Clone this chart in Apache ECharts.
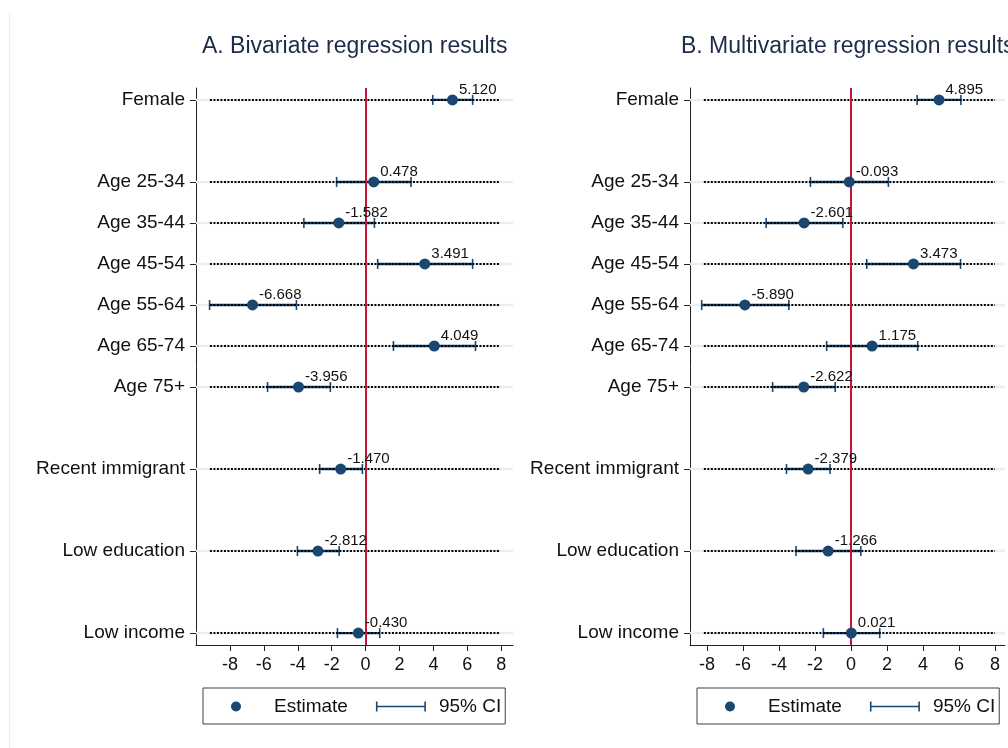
<!DOCTYPE html>
<html>
<head>
<meta charset="utf-8">
<script src="https://cdn.jsdelivr.net/npm/echarts@6/dist/echarts.min.js"></script>
<style>
html,body{margin:0;padding:0;background:#fff;}
#chart{width:1008px;height:748px;}
</style>
</head>
<body>
<div id="chart"></div>
<script>
// ---- data ----
const rows = ['Female', '', 'Age 25-34', 'Age 35-44', 'Age 45-54', 'Age 55-64', 'Age 65-74', 'Age 75+', '', 'Recent immigrant', '', 'Low education', '', 'Low income'];
const variables = ['Female', 'Age 25-34', 'Age 35-44', 'Age 45-54', 'Age 55-64', 'Age 65-74', 'Age 75+', 'Recent immigrant', 'Low education', 'Low income'];

const bivEst = [5.120, 0.478, -1.582, 3.491, -6.668, 4.049, -3.956, -1.470, -2.812, -0.430];
const bivLo  = [3.96, -1.71, -3.64, 0.71, -9.20, 1.64, -5.78, -2.71, -4.02, -1.66];
const bivHi  = [6.31, 2.68, 0.52, 6.31, -4.08, 6.48, -2.08, -0.19, -1.56, 0.83];

const mulEst = [4.895, -0.093, -2.601, 3.473, -5.890, 1.175, -2.622, -2.379, -1.266, 0.021];
const mulLo  = [3.68, -2.25, -4.71, 0.88, -8.29, -1.35, -4.35, -3.58, -3.05, -1.53];
const mulHi  = [6.11, 2.08, -0.45, 6.09, -3.45, 3.71, -0.87, -1.16, 0.55, 1.60];

const xTicks = [-8, -6, -4, -2, 0, 2, 4, 6, 8];
const titles = ['A. Bivariate regression results', 'B. Multivariate regression results'];

// ---- styling ----
const FONT = 'Liberation Sans, Arial, sans-serif';
const NAVY = '#1a476f';
const REF_RED = '#c4153a';

const rowIdx = variables.map(v => rows.indexOf(v));
const tickRows = rowIdx.slice();

const panels = [
  {est: bivEst, lo: bivLo, hi: bivHi, gridLeft: 196, gridWidth: 317, xMin: -10, xMax: 8.69, dot: [-9.18, 7.95]},
  {est: mulEst, lo: mulLo, hi: mulHi, gridLeft: 690, gridWidth: 315, xMin: -8.94, xMax: 8.56, dot: [-8.17, 8.0]}
];

function renderGridLine(params, api) {
  const cs = params.coordSys;
  const y = api.coord([0, api.value(2)])[1];
  return {type: 'line', shape: {x1: cs.x, y1: y, x2: cs.x + cs.width, y2: y},
          style: {stroke: '#e8eff1', lineWidth: 2.5}};
}

function renderDotLine(params, api) {
  const r = api.value(2);
  const a = api.coord([api.value(0), r]);
  const b = api.coord([api.value(1), r]);
  return {type: 'line', shape: {x1: a[0], y1: a[1], x2: b[0], y2: b[1]},
          style: {stroke: '#000000', lineWidth: 2, lineDash: [2, 1.5]}};
}

function renderCI(params, api) {
  const r = api.value(2);
  const a = api.coord([api.value(0), r]);
  const b = api.coord([api.value(1), r]);
  const h = 5;
  return {
    type: 'group',
    children: [
      {type: 'line', shape: {x1: a[0], y1: a[1], x2: b[0], y2: b[1]}, style: {stroke: NAVY, lineWidth: 2.4}},
      {type: 'line', shape: {x1: a[0], y1: a[1] - h, x2: a[0], y2: a[1] + h}, style: {stroke: NAVY, lineWidth: 1.6}},
      {type: 'line', shape: {x1: b[0], y1: b[1] - h, x2: b[0], y2: b[1] + h}, style: {stroke: NAVY, lineWidth: 1.6}}
    ]
  };
}

const grids = [], xAxes = [], yAxes = [], series = [], titleOpts = [], legends = [];
const ciIcon = 'path://M0,0h1.6v10h-1.6z M0,4.2h50v1.6h-50z M48.4,0h1.6v10h-1.6z';

panels.forEach((p, i) => {
  grids.push({left: p.gridLeft, width: p.gridWidth, top: 88, height: 557});
  xAxes.push({
    type: 'value', gridIndex: i, min: p.xMin, max: p.xMax,
    axisLine: {show: true, onZero: false, lineStyle: {color: '#222', width: 1}},
    axisTick: {show: true, length: 6, customValues: xTicks, lineStyle: {color: '#222'}},
    axisLabel: {customValues: xTicks, fontSize: 18, color: '#111', fontFamily: FONT, margin: 11,
                formatter: v => String(Math.round(v))},
    splitLine: {show: false}
  });
  yAxes.push({
    type: 'value', gridIndex: i, inverse: true, min: -0.29, max: 13.29,
    axisLine: {show: true, onZero: false, lineStyle: {color: '#222', width: 1}},
    axisTick: {show: true, length: 6, customValues: tickRows, lineStyle: {color: '#222'}},
    axisLabel: {customValues: tickRows, fontSize: 19, color: '#111', fontFamily: FONT, margin: 11,
                formatter: v => rows[Math.round(v)]},
    splitLine: {show: false}
  });
  series.push({
    type: 'custom', name: 'grid' + i, xAxisIndex: i, yAxisIndex: i, z: 1, silent: true,
    renderItem: renderGridLine,
    encode: {x: [0, 1], y: 2},
    data: rowIdx.map(r => [p.dot[0], p.dot[1], r])
  });
  series.push({
    type: 'custom', name: '95% CI', xAxisIndex: i, yAxisIndex: i, z: 2, silent: true,
    itemStyle: {color: NAVY},
    renderItem: renderCI,
    encode: {x: [0, 1], y: 2},
    data: rowIdx.map((r, k) => [p.lo[k], p.hi[k], r])
  });
  series.push({
    type: 'custom', name: 'dots' + i, xAxisIndex: i, yAxisIndex: i, z: 3, silent: true,
    renderItem: renderDotLine,
    encode: {x: [0, 1], y: 2},
    data: rowIdx.map(r => [p.dot[0], p.dot[1], r])
  });
  series.push({
    type: 'scatter', name: 'Estimate', xAxisIndex: i, yAxisIndex: i, z: 10, silent: true,
    symbol: 'circle', symbolSize: 11,
    itemStyle: {color: NAVY, opacity: 1},
    label: {show: true, position: [12, -12], fontSize: 15, color: '#111', fontFamily: FONT,
            formatter: d => d.value[0].toFixed(3)},
    data: rowIdx.map((r, k) => [p.est[k], r]),
    markLine: {
      silent: true, symbol: 'none', z: 6,
      label: {show: false},
      lineStyle: {color: REF_RED, width: 2, type: 'solid'},
      emphasis: {disabled: true},
      data: [{xAxis: 0}]
    }
  });
  titleOpts.push({
    text: titles[i], left: i === 0 ? 202 : 681, top: 35, padding: 0,
    textStyle: {fontSize: 23, fontWeight: 'normal', color: '#1e2b4a', fontFamily: FONT}
  });
  legends.push({
    left: i === 0 ? 203 : 697, top: 688, width: 400, orient: 'horizontal',
    selectedMode: false,
    itemWidth: 50, itemHeight: 10, itemGap: 28,
    padding: [9, 4, 8, 28],
    borderColor: '#404040', borderWidth: 1, backgroundColor: '#fff',
    textStyle: {fontSize: 19, color: '#111', fontFamily: FONT, padding: [0, 0, 0, 8]},
    data: [
      {name: 'Estimate', icon: 'circle', itemStyle: {color: NAVY}},
      {name: '95% CI', icon: ciIcon, itemStyle: {color: NAVY}}
    ]
  });
});

const chart = echarts.init(document.getElementById('chart'), null, {renderer: 'canvas'});
chart.setOption({
  backgroundColor: '#ffffff',
  animation: false,
  title: titleOpts,
  legend: legends,
  grid: grids,
  xAxis: xAxes,
  yAxis: yAxes,
  series: series,
  graphic: [
    {type: 'line', shape: {x1: 9.5, y1: 12, x2: 9.5, y2: 748}, style: {stroke: '#e9eef0', lineWidth: 1}, silent: true}
  ]
});
</script>
</body>
</html>
